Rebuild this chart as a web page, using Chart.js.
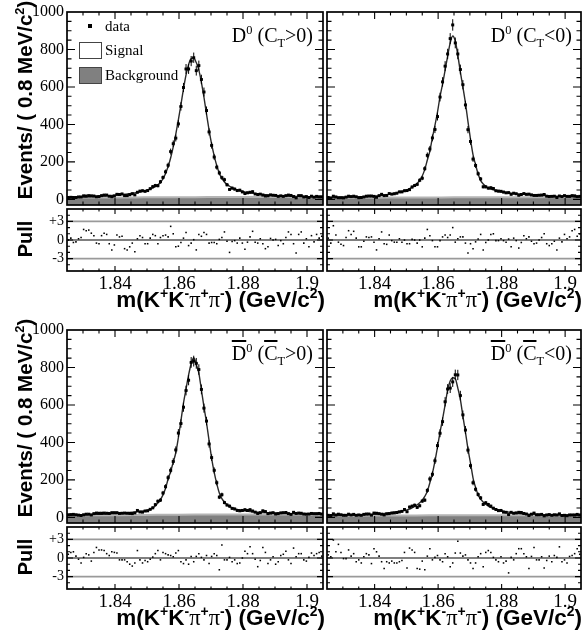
<!DOCTYPE html>
<html><head><meta charset="utf-8">
<script src="https://cdn.jsdelivr.net/npm/chart.js@4.4.1/dist/chart.umd.min.js"></script>
<style>
html,body{margin:0;padding:0;background:#fff;overflow:hidden;width:583px;height:644px;}
#wrap{position:relative;width:583px;height:644px;overflow:hidden;}
canvas{position:absolute;}
.t{position:absolute;white-space:nowrap;color:#000;}
.serif{font-family:'Liberation Serif','Times New Roman',serif;}
.sans{font-family:'Liberation Sans',Arial,sans-serif;font-weight:bold;}
.sup{position:relative;font-size:0.62em;top:-0.62em;}
.sub{position:relative;font-size:0.62em;top:0.38em;}
.pi{font-family:'Liberation Serif','Times New Roman',serif;font-weight:normal;}
.ov{text-decoration:overline;}
.rot{transform:translate(-50%,-50%) rotate(-90deg);}
</style></head>
<body><div id="wrap"></div>
<script>
// ---------------- data ----------------
const xMin = 1.825, xMax = 1.905, binW = 0.0008;
const yMin = -30, yMax = 1000;
const pullMin = -5, pullMax = 5;
const xTickVals = [1.84, 1.86, 1.88, 1.9];
const xTickLabels = ['1.84', '1.86', '1.88', '1.9'];
const yTickVals = [0, 200, 400, 600, 800, 1000];
const yTickLabels = ['0', '200', '400', '600', '800', '1000'];
const pullTickVals = [3, 0, -3];
const pullTickLabels = ['+3', '0', '-3'];
const bkgX = [1.825, 1.833, 1.841, 1.849, 1.857, 1.865, 1.873, 1.881, 1.889, 1.897, 1.905];

// D0 (CT>0)
const fitTL = [10,10,11,11,12,12,13,13,14,15, 15,16,17,17,18,19,20,21,22,23, 24,26,27,29,31,33,35,37,40,43,
  47,51,55,61,68,78,90,110,138,175, 222,280,348,424,505,590,665,720,752,755, 730,690,625,545,455,370,295,232,180,140,
  112,93,80,70,62,56,51,47,43,40, 37,35,33,31,29,27,26,25,24,23, 22,21,20,19,19,18,18,17,17,16, 16,15,15,14,14,14,13,13,13,12];
const dataTL = [10,11,10,10,13,13,19,18,20,19, 18,14,15,20,23,23,17,14,18,27, 26,29,20,20,25,30,24,38,44,46,
  43,47,57,68,74,73,94,117,147,182, 255,297,327,403,496,597,696,696,738,756, 687,714,640,573,474,360,288,226,172,141,
  116,105,78,53,60,55,47,49,40,31, 35,38,41,29,26,28,23,18,19,24, 22,21,16,19,16,20,23,21,15,8, 20,20,13,15,10,17,12,16,14,14];
const pullTL = [0.0,0.3,-0.4,-0.3,0.2,0.4,1.7,1.5,1.6,1.1, 0.7,-0.5,-0.6,0.7,1.1,0.9,-0.6,-1.6,-0.8,0.8,
  0.5,0.6,-1.4,-1.6,-1.1,-0.5,-1.9,0.2,0.7,0.4, -0.6,-0.6,0.3,0.9,0.7,-0.6,0.4,0.7,0.8,0.5,
  2.2,1.0,-1.1,-1.0,-0.4,0.3,1.2,-0.9,-0.5,0.05, -1.6,0.9,0.6,1.2,0.9,-0.5,-0.4,-0.4,-0.6,0.1,
  0.4,1.3,-0.2,-2.0,-0.25,-0.1,-0.5,0.3,-0.5,-1.5, -0.35,0.5,1.4,-0.35,-0.5,0.2,-0.6,-1.4,-1.1,0.25,
  0.0,0.1,-0.9,-0.1,-0.6,0.4,1.3,0.9,-0.6,-2.1, 0.9,1.3,-0.5,0.2,-1.1,0.7,-0.3,0.9,0.3,0.6];
const bkgTL = [9,10,10,11,12,12,13,13,13,12,12];

// D0 (CT<0)
const fitTR = [9,9,10,10,10,11,11,11,12,12, 12,13,13,14,14,15,16,16,17,18, 19,21,23,25,27,29,32,35,39,42,
  46,51,57,65,74,85,102,125,160,210, 258,330,395,466,548,615,690,765,835,872, 845,770,680,600,515,415,320,237,185,135,
  100,82,70,60,55,51,47,44,42,39, 37,35,33,31,30,29,28,27,26,25, 25,24,23,22,21,21,20,19,19,18, 17,17,16,16,15,14,14,13,13,12];
const dataTR = [10,8,17,13,9,9,8,12,17,15, 17,14,9,10,13,17,18,18,16,11, 20,27,20,21,31,28,30,33,40,40,
  46,47,52,66,74,80,102,113,164,235, 269,328,373,442,546,627,711,776,858,931, 835,776,693,612,504,372,309,215,181,137,
  109,67,67,60,62,58,46,44,43,39, 35,36,27,33,30,22,26,31,27,28, 24,21,21,22,23,26,17,15,16,17, 10,18,15,20,16,16,20,19,15,16];
const pullTR = [0.3,-0.5,2.3,0.8,-0.35,-0.7,-0.9,0.4,1.5,0.9, 1.4,0.3,-1.1,-1.1,-0.2,0.5,0.4,0.5,-0.35,-1.6,
  0.2,1.3,-0.6,-0.7,0.8,-0.1,-0.35,-0.35,0.2,-0.35, 0.0,-0.6,-0.6,0.1,0.0,-0.5,0.0,-1.1,0.3,1.7,
  0.7,-0.1,-1.1,-1.1,-0.1,0.5,0.8,0.4,0.8,2.0, -0.35,0.2,0.5,0.5,-0.5,-2.1,-0.6,-1.4,-0.3,0.15,
  0.9,-1.6,-0.4,0.0,0.9,1.0,-0.1,-0.1,0.2,-0.1, -0.35,0.15,-1.1,0.3,-0.1,-1.3,-0.4,0.7,0.2,0.5,
  -0.2,-0.6,-0.5,0.0,0.4,1.0,-0.6,-0.9,-0.6,-0.2, -1.6,0.3,-0.3,0.9,0.2,0.5,1.5,1.7,0.6,1.0];
const bkgTR = [8,9,9,10,10,11,11,12,12,12,11];

// anti-D0 (anti-CT>0)
const fitBL = [12,12,12,13,13,13,14,14,15,15, 16,16,17,17,18,19,19,20,21,21, 22,23,24,25,26,27,28,30,31,33,
  36,39,44,50,62,76,95,120,155,205, 245,295,345,425,515,610,685,760,820,852, 815,770,680,590,505,410,315,240,180,130,
  100,82,68,59,52,47,43,40,37,35, 33,31,30,29,28,27,26,26,25,24, 24,23,23,22,22,21,21,20,20,20, 20,19,19,19,18,18,18,17,17,17];
const dataBL = [14,15,16,14,12,10,14,17,17,13, 20,23,22,22,23,22,21,25,25,25, 21,22,23,22,21,20,24,37,29,28,
  34,35,43,51,68,86,92,130,164,212, 251,298,360,450,501,588,677,732,827,834, 822,789,683,583,514,392,319,251,185,108,
  121,79,66,60,48,45,37,35,37,41, 37,41,34,28,21,25,35,31,20,23, 25,18,20,24,25,26,20,16,27,21, 23,22,18,17,18,21,20,20,21,18];
const pullBL = [0.6,0.9,1.0,0.3,-0.2,-0.8,0.1,0.7,0.5,-0.5, 0.9,1.7,1.3,1.3,1.2,0.7,0.4,1.0,0.9,0.8,
  -0.3,-0.3,-0.3,-0.6,-1.0,-1.3,-0.8,1.2,-0.3,-0.8, -0.4,-0.6,-0.2,0.15,0.7,1.2,-0.3,0.9,0.7,0.5,
  0.4,0.2,0.8,1.2,-0.6,-0.9,-0.3,-1.0,0.25,-0.6, 0.25,0.7,0.1,-0.3,0.4,-0.9,0.25,0.7,0.4,-1.9,
  2.1,-0.3,-0.3,0.1,-0.6,-0.3,-0.9,-0.8,0.0,1.1, 0.7,1.8,0.7,-0.2,-1.4,-0.4,1.7,0.9,-0.9,-0.3,
  0.2,-1.0,-0.6,0.4,0.6,1.1,-0.3,-0.9,1.6,0.2, 0.7,0.7,-0.3,-0.5,0.1,0.8,0.4,0.7,0.9,0.3];
const bkgBL = [11,12,12,13,14,15,15,16,16,16,16];

// anti-D0 (anti-CT<0)
const fitBR = [9,9,10,10,10,11,11,11,12,12, 13,13,14,14,15,15,16,16,17,18, 19,20,21,22,24,26,28,30,32,34,
  37,40,44,51,58,67,78,92,112,140, 185,235,300,375,455,525,600,680,728,745, 740,690,630,540,455,365,290,210,160,120,
  97,82,70,60,53,48,44,40,36,33, 30,28,26,23,21,20,19,18,17,17, 16,16,15,15,15,14,14,14,13,13, 13,13,12,12,12,12,12,11,11,11];
const dataBR = [11,10,19,13,17,14,11,11,17,13, 16,11,13,11,16,18,18,12,23,22, 20,17,13,19,20,23,24,26,29,32,
  42,30,55,60,65,53,62,87,92,144, 205,230,302,383,449,511,617,685,690,723, 761,760,650,547,466,359,276,185,150,122,
  104,69,78,69,60,49,42,36,37,28, 27,15,27,22,24,27,26,21,18,10, 17,23,14,14,16,8,13,15,11,14, 13,19,10,11,9,13,13,13,16,13];
const pullBR = [0.5,0.2,2.9,1.0,2.2,0.9,-0.1,-0.1,1.3,0.3, 0.7,-0.6,-0.3,-0.8,0.2,0.7,0.5,-0.9,1.5,1.0,
  0.3,-0.6,-1.7,-0.6,-0.8,-0.5,-0.8,-0.8,-0.6,-0.4, 0.9,-1.6,1.6,1.3,0.9,-1.7,-1.8,-0.5,-1.9,0.3,
  1.5,-0.3,0.1,0.4,-0.3,-0.6,0.7,0.2,-1.4,-0.8, 0.8,2.7,0.8,0.3,0.5,-0.3,-0.8,-1.7,-0.8,0.2,
  0.7,-1.4,0.9,1.2,0.9,0.1,-0.3,-0.6,0.2,-0.8, -0.5,-2.4,0.1,-0.3,0.7,1.5,1.5,0.7,0.2,-1.7,
  0.25,1.7,-0.3,-0.3,0.2,-1.6,-0.4,0.3,-0.6,0.4, 0.1,1.8,-0.6,-0.3,-0.8,0.25,0.4,0.7,1.5,0.6];
const bkgBR = [9,9,10,10,11,11,11,12,12,12,11];

const pullRefVals = [3, 0, -3];

// ---------------- drawing ----------------
const wrap = document.getElementById('wrap');
const binCenter = (i) => xMin + (i + 0.5) * binW;
const xMinorStep = 0.005, yMinorStep = 50, pullMinorStep = 1;

function addCanvas(left, top, w, h) {
  const c = document.createElement('canvas');
  c.width = w; c.height = h;
  c.style.left = left + 'px'; c.style.top = top + 'px';
  c.style.width = w + 'px'; c.style.height = h + 'px';
  wrap.appendChild(c);
  return c;
}
const near = (a, arr) => arr.some(v => Math.abs(v - a) < 1e-7);

const decor = {
  id: 'decor',
  beforeDatasetsDraw(chart, args, o) {
    if (o.kind !== 'pull') return;
    const { ctx, chartArea: a, scales: { y } } = chart;
    ctx.save();
    pullRefVals.forEach(v => {
      const py = y.getPixelForValue(v);
      ctx.beginPath();
      ctx.strokeStyle = v === 0 ? '#000' : '#9a9a9a';
      ctx.lineWidth = v === 0 ? 1.2 : 1.6;
      ctx.moveTo(a.left, py); ctx.lineTo(a.right, py);
      ctx.stroke();
    });
    ctx.restore();
  },
  afterDatasetsDraw(chart, args, o) {
    const { ctx, chartArea: a, scales: { x, y } } = chart;
    ctx.save();
    if (o.kind === 'main') {
      ctx.strokeStyle = '#000'; ctx.lineWidth = 1;
      ctx.beginPath();
      chart.data.datasets[0].data.forEach(p => {
        const e = Math.sqrt(p.y);
        const px = x.getPixelForValue(p.x);
        ctx.moveTo(px, y.getPixelForValue(p.y - e));
        ctx.lineTo(px, y.getPixelForValue(p.y + e));
        const py = y.getPixelForValue(p.y);
        ctx.moveTo(x.getPixelForValue(p.x - binW / 2), py);
        ctx.lineTo(x.getPixelForValue(p.x + binW / 2), py);
      });
      ctx.stroke();
    }
    ctx.strokeStyle = '#000';
    ctx.lineWidth = 1.7;
    ctx.strokeRect(a.left, a.top, a.width, a.height);
    const L = o.kind === 'main' ? { xM: 7, xm: 3.5, yM: 8, ym: 4.5 } : { xM: 5, xm: 2.5, yM: 6, ym: 3 };
    ctx.lineWidth = 1.1;
    ctx.beginPath();
    for (let k = 1; ; k++) {
      const v = xMin + k * xMinorStep;
      if (v >= xMax - 1e-9) break;
      const len = near(v, xTickVals) ? L.xM : L.xm;
      const px = x.getPixelForValue(v);
      ctx.moveTo(px, a.bottom); ctx.lineTo(px, a.bottom - len);
      ctx.moveTo(px, a.top); ctx.lineTo(px, a.top + len);
    }
    const ymaj = o.kind === 'main' ? yTickVals : pullTickVals;
    const ystep = o.kind === 'main' ? yMinorStep : pullMinorStep;
    const y0 = o.kind === 'main' ? yMin : pullMin, y1 = o.kind === 'main' ? yMax : pullMax;
    for (let k = Math.ceil(y0 / ystep); k * ystep <= y1; k++) {
      const v = k * ystep;
      if (v <= y0 || v >= y1) continue;
      const len = near(v, ymaj) ? L.yM : L.ym;
      const py = y.getPixelForValue(v);
      ctx.moveTo(a.left, py); ctx.lineTo(a.left + len, py);
      ctx.moveTo(a.right, py); ctx.lineTo(a.right - len, py);
    }
    ctx.stroke();
    ctx.restore();
  }
};

const serifFont = "'Liberation Serif', serif";

function mainPanel(left, top, w, h, isLeft, data, fit, bkg) {
  const c = addCanvas(left, top, w, h);
  new Chart(c, {
    type: 'line',
    data: { datasets: [
      { data: data.map((v, i) => ({ x: binCenter(i), y: v })), showLine: false, pointStyle: 'rect',
        pointRadius: 2.1, pointBackgroundColor: '#000', pointBorderWidth: 0, order: 0 },
      { data: fit.map((v, i) => ({ x: binCenter(i), y: v })), borderColor: '#2a2a2a', borderWidth: 1.4,
        pointRadius: 0, cubicInterpolationMode: 'monotone', fill: false, order: 1 },
      { data: bkg.map((v, i) => ({ x: bkgX[i], y: v })), borderColor: '#b4b4b4', borderWidth: 2,
        backgroundColor: '#808080', fill: 'start', pointRadius: 0, cubicInterpolationMode: 'monotone', order: 2 }
    ] },
    options: {
      responsive: false, animation: false, events: [],
      layout: { padding: { top: 12, bottom: 2, left: isLeft ? 0 : 2, right: isLeft ? 2 : 0 } },
      plugins: { legend: { display: false }, tooltip: { enabled: false }, decor: { kind: 'main' } },
      scales: {
        x: { type: 'linear', min: xMin, max: xMax, display: false },
        y: { type: 'linear', min: yMin, max: yMax, display: isLeft,
          grid: { display: false, drawTicks: false }, border: { display: false },
          afterBuildTicks: s => { s.ticks = yTickVals.map(v => ({ value: v })); },
          afterFit: s => { if (isLeft) { s.width = 67; } s.paddingTop = 0; s.paddingBottom = 0; },
          ticks: { padding: 3, color: '#000', font: { family: serifFont, size: 16 },
            callback: v => yTickLabels[yTickVals.indexOf(v)] } }
      }
    },
    plugins: [decor]
  });
}

function pullPanel(left, top, w, h, isLeft, pull) {
  const c = addCanvas(left, top, w, h);
  new Chart(c, {
    type: 'line',
    data: { datasets: [
      { data: pull.map((v, i) => ({ x: binCenter(i), y: v })), showLine: false, pointStyle: 'rect',
        pointRadius: 1.1, pointBackgroundColor: '#000', pointBorderWidth: 0 }
    ] },
    options: {
      responsive: false, animation: false, events: [],
      layout: { padding: { top: 2, bottom: 0, left: isLeft ? 0 : 2, right: isLeft ? 2 : 0 } },
      plugins: { legend: { display: false }, tooltip: { enabled: false }, decor: { kind: 'pull' } },
      scales: {
        x: { type: 'linear', min: xMin, max: xMax, display: true,
          grid: { display: false, drawTicks: false }, border: { display: false },
          afterBuildTicks: s => { s.ticks = xTickVals.map(v => ({ value: v })); },
          afterFit: s => { s.height = h - 2 - 64; s.paddingLeft = 0; s.paddingRight = 0; },
          ticks: { autoSkip: false, maxRotation: 0, padding: 2, color: '#000', font: { family: serifFont, size: 19 },
            callback: v => xTickLabels[xTickVals.indexOf(v)] } },
        y: { type: 'linear', min: pullMin, max: pullMax, display: isLeft,
          grid: { display: false, drawTicks: false }, border: { display: false },
          afterBuildTicks: s => { s.ticks = pullTickVals.map(v => ({ value: v })); },
          afterFit: s => { if (isLeft) { s.width = 67; } s.paddingTop = 0; s.paddingBottom = 0; },
          ticks: { padding: 3, color: '#000', font: { family: serifFont, size: 14 },
            callback: v => pullTickLabels[pullTickVals.indexOf(v)] } }
      }
    },
    plugins: [decor]
  });
}

function addText(html, cls, css) {
  const d = document.createElement('div');
  d.className = 't ' + cls;
  d.innerHTML = html;
  Object.assign(d.style, css);
  wrap.appendChild(d);
  return d;
}

const xTitle = 'm(K<span class="sup">+</span>K<span class="sup">-</span><span class="pi">&pi;</span><span class="sup">+</span><span class="pi">&pi;</span><span class="sup">-</span>) (GeV/c<span class="sup">2</span>)';
const yTitle = 'Events/ ( 0.8 MeV/c<span class="sup">2</span>)';

const halves = [
  { dy: 0, L: [dataTL, fitTL, bkgTL, pullTL], R: [dataTR, fitTR, bkgTR, pullTR],
    labL: 'D<span class="sup">0</span> (C<span class="sub">T</span>&gt;0)',
    labR: 'D<span class="sup">0</span> (C<span class="sub">T</span>&lt;0)' },
  { dy: 318, L: [dataBL, fitBL, bkgBL, pullBL], R: [dataBR, fitBR, bkgBR, pullBR],
    labL: '<span class="ov">D</span><span class="sup">0</span> (<span class="ov">C</span><span class="sub">T</span>&gt;0)',
    labR: '<span class="ov">D</span><span class="sup">0</span> (<span class="ov">C</span><span class="sub">T</span>&lt;0)' }
];

function build() {
  halves.forEach(hf => {
    const dy = hf.dy;
    mainPanel(0, dy, 327, 209, true, hf.L[0], hf.L[1], hf.L[2]);
    mainPanel(323, dy, 262, 209, false, hf.R[0], hf.R[1], hf.R[2]);
    pullPanel(0, dy + 205, 327, 100, true, hf.L[3]);
    pullPanel(323, dy + 205, 262, 100, false, hf.R[3]);
    addText(yTitle, 'sans rot', { left: '25px', top: (dy + 100) + 'px', fontSize: '20.5px' });
    addText('Pull', 'sans rot', { left: '25px', top: (dy + 239) + 'px', fontSize: '20px' });
    addText(xTitle, 'sans', { right: (583 - 325) + 'px', top: (dy + 287) + 'px', fontSize: '22.5px', lineHeight: '26px' });
    addText(xTitle, 'sans', { right: '1px', top: (dy + 287) + 'px', fontSize: '22.5px', lineHeight: '26px' });
    addText(hf.labL, 'serif', { right: (583 - 313) + 'px', top: (dy + 25) + 'px', fontSize: '20px', lineHeight: '20px' });
    addText(hf.labR, 'serif', { right: '11px', top: (dy + 25) + 'px', fontSize: '20px', lineHeight: '20px' });
  });
  // legend (top-left panel)
  addText('', '', { left: '88px', top: '24px', width: '4px', height: '4px', background: '#000' });
  addText('data', 'serif', { left: '105px', top: '17px', fontSize: '15px', lineHeight: '18px' });
  addText('', '', { left: '79px', top: '42px', width: '21px', height: '15px', background: '#fff', border: '1px solid #444' });
  addText('Signal', 'serif', { left: '105px', top: '41px', fontSize: '15px', lineHeight: '18px' });
  addText('', '', { left: '79px', top: '67px', width: '21px', height: '15px', background: '#808080', border: '1px solid #444' });
  addText('Background', 'serif', { left: '105px', top: '66px', fontSize: '15px', lineHeight: '18px' });
}

Promise.all([
  document.fonts.load("19px 'Liberation Serif'"),
  document.fonts.load("bold 19px 'Liberation Sans'")
]).then(build, build);
</script>
</body></html>
